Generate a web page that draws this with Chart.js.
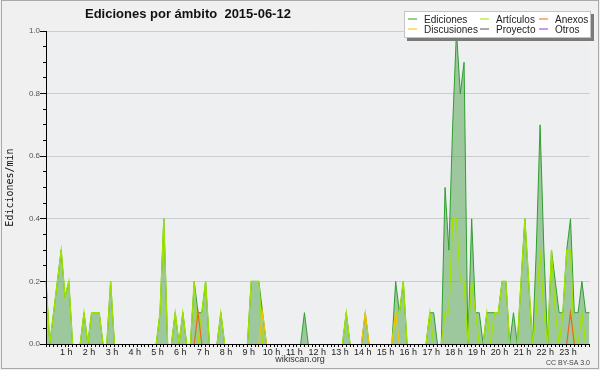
<!DOCTYPE html>
<html lang="es">
<head>
<meta charset="UTF-8">
<title>Ediciones por ámbito 2015-06-12</title>
<script src="https://cdn.jsdelivr.net/npm/chart.js@4"></script>
<style>
  body { margin: 0; background: #f0f0f0; }
  canvas { display: block; }
</style>
</head>
<body>
<canvas id="chart" width="600" height="370"></canvas>
<script>
// etiquetas de horas del eje x (una cada 6 franjas de 10 min)
var horas = ['1 h', '2 h', '3 h', '4 h', '5 h', '6 h', '7 h', '8 h', '9 h', '10 h', '11 h', '12 h',
             '13 h', '14 h', '15 h', '16 h', '17 h', '18 h', '19 h', '20 h', '21 h', '22 h', '23 h'];

// ediciones por minuto, franjas de 10 minutos (12 por fila = 2 horas)
var ediciones = [
  0.2, 0, 0.1, 0.2, 0.3, 0.15, 0.2, 0, 0, 0, 0.1, 0,
  0.1, 0.1, 0.1, 0, 0, 0.2, 0, 0, 0, 0, 0, 0,
  0, 0, 0, 0, 0, 0, 0.1, 0.4, 0, 0, 0.1, 0,
  0.1, 0, 0, 0.2, 0.1, 0.1, 0.2, 0, 0, 0, 0.1, 0,
  0, 0, 0, 0, 0, 0, 0.2, 0.2, 0.2, 0.1, 0, 0,
  0, 0, 0, 0, 0, 0, 0, 0, 0.1, 0, 0, 0,
  0, 0, 0, 0, 0, 0, 0, 0.1, 0, 0, 0, 0,
  0.1, 0, 0, 0, 0, 0, 0, 0, 0.2, 0.1, 0.2, 0,
  0, 0, 0, 0, 0, 0.1, 0.1, 0, 0, 0.5, 0.3, 0.7,
  1.0, 0.8, 0.9, 0, 0.4, 0.1, 0.1, 0, 0.1, 0.1, 0.1, 0.1,
  0.2, 0.2, 0, 0.1, 0, 0.2, 0.4, 0.2, 0, 0.3, 0.7, 0.3,
  0, 0.3, 0.2, 0.1, 0.1, 0.3, 0.4, 0.1, 0.1, 0.2, 0.1, 0.1
];
var articulos = [
  0.2, 0, 0.1, 0.2, 0.3, 0.15, 0.2, 0, 0, 0, 0.1, 0,
  0.1, 0.1, 0.1, 0, 0, 0.2, 0, 0, 0, 0, 0, 0,
  0, 0, 0, 0, 0, 0, 0.1, 0.4, 0, 0, 0.1, 0,
  0.1, 0, 0, 0.2, 0, 0.1, 0.2, 0, 0, 0, 0.1, 0,
  0, 0, 0, 0, 0, 0, 0.2, 0.2, 0.2, 0, 0, 0,
  0, 0, 0, 0, 0, 0, 0, 0, 0, 0, 0, 0,
  0, 0, 0, 0, 0, 0, 0, 0.1, 0, 0, 0, 0,
  0, 0, 0, 0, 0, 0, 0, 0, 0.1, 0.1, 0.2, 0,
  0, 0, 0, 0, 0, 0.1, 0, 0, 0, 0.1, 0.1, 0.4,
  0.4, 0.2, 0.2, 0, 0.2, 0.1, 0, 0, 0.1, 0, 0.1, 0.1,
  0.2, 0.2, 0, 0, 0, 0.2, 0.4, 0.2, 0, 0.1, 0.3, 0.1,
  0, 0.3, 0.1, 0, 0.1, 0.3, 0.3, 0, 0, 0.1, 0, 0
];
var anexos = [
  0, 0, 0, 0, 0, 0, 0, 0, 0, 0, 0, 0,
  0, 0, 0, 0, 0, 0, 0, 0, 0, 0, 0, 0,
  0, 0, 0, 0, 0, 0, 0, 0, 0, 0, 0, 0,
  0, 0, 0, 0, 0.1, 0, 0, 0, 0, 0, 0, 0,
  0, 0, 0, 0, 0, 0, 0, 0, 0, 0, 0, 0,
  0, 0, 0, 0, 0, 0, 0, 0, 0, 0, 0, 0,
  0, 0, 0, 0, 0, 0, 0, 0, 0, 0, 0, 0,
  0, 0, 0, 0, 0, 0, 0, 0, 0, 0, 0, 0,
  0, 0, 0, 0, 0, 0, 0, 0, 0, 0, 0, 0,
  0, 0, 0, 0, 0, 0, 0, 0, 0, 0, 0, 0,
  0, 0, 0, 0, 0, 0, 0, 0, 0, 0, 0, 0,
  0, 0, 0, 0, 0, 0, 0.1, 0, 0, 0, 0, 0
];
var discusiones = [
  0, 0, 0, 0, 0, 0, 0, 0, 0, 0, 0, 0,
  0, 0, 0, 0, 0, 0, 0, 0, 0, 0, 0, 0,
  0, 0, 0, 0, 0, 0, 0, 0, 0, 0, 0, 0,
  0, 0, 0, 0, 0, 0, 0, 0, 0, 0, 0, 0,
  0, 0, 0, 0, 0, 0, 0, 0, 0, 0.1, 0, 0,
  0, 0, 0, 0, 0, 0, 0, 0, 0, 0, 0, 0,
  0, 0, 0, 0, 0, 0, 0, 0, 0, 0, 0, 0,
  0.1, 0, 0, 0, 0, 0, 0, 0, 0.1, 0, 0, 0,
  0, 0, 0, 0, 0, 0, 0, 0, 0, 0, 0, 0,
  0, 0, 0, 0, 0, 0, 0, 0, 0, 0, 0, 0,
  0, 0, 0, 0, 0, 0, 0, 0, 0, 0, 0, 0,
  0, 0, 0, 0, 0, 0, 0, 0, 0, 0, 0, 0
];
var proyecto = [
  0, 0, 0, 0, 0, 0, 0, 0, 0, 0, 0, 0,
  0, 0, 0, 0, 0, 0, 0, 0, 0, 0, 0, 0,
  0, 0, 0, 0, 0, 0, 0, 0, 0, 0, 0, 0,
  0, 0, 0, 0, 0, 0, 0, 0, 0, 0, 0, 0,
  0, 0, 0, 0, 0, 0, 0, 0, 0, 0, 0, 0,
  0, 0, 0, 0, 0, 0, 0, 0, 0, 0, 0, 0,
  0, 0, 0, 0, 0, 0, 0, 0, 0, 0, 0, 0,
  0, 0, 0, 0, 0, 0, 0, 0, 0, 0, 0, 0,
  0, 0, 0, 0, 0, 0, 0, 0, 0, 0, 0, 0,
  0, 0, 0, 0, 0, 0, 0, 0, 0, 0, 0, 0,
  0, 0, 0, 0, 0, 0, 0, 0, 0, 0, 0, 0,
  0, 0, 0, 0, 0, 0, 0, 0, 0, 0, 0, 0
];
var otros = [
  0, 0, 0, 0, 0, 0, 0, 0, 0, 0, 0, 0,
  0, 0, 0, 0, 0, 0, 0, 0, 0, 0, 0, 0,
  0, 0, 0, 0, 0, 0, 0, 0, 0, 0, 0, 0,
  0, 0, 0, 0, 0, 0, 0, 0, 0, 0, 0, 0,
  0, 0, 0, 0, 0, 0, 0, 0, 0, 0, 0, 0,
  0, 0, 0, 0, 0, 0, 0, 0, 0, 0, 0, 0,
  0, 0, 0, 0, 0, 0, 0, 0, 0, 0, 0, 0,
  0, 0, 0, 0, 0, 0, 0, 0, 0, 0, 0, 0,
  0, 0, 0, 0, 0, 0, 0, 0, 0, 0, 0, 0,
  0, 0, 0, 0, 0, 0, 0, 0, 0, 0, 0, 0,
  0, 0, 0, 0, 0, 0, 0, 0, 0, 0, 0, 0,
  0, 0, 0, 0, 0, 0, 0, 0, 0, 0, 0, 0
];

// franjas de 10 minutos: 00:00 ... 23:50
var franjas = [];
for (var i = 0; i < ediciones.length; i++) {
    var h = Math.floor(i / 6), m = (i % 6) * 10;
    franjas.push((h < 10 ? '0' : '') + h + ':' + (m < 10 ? '0' : '') + m);
}

// no dibujar los tramos que van por el cero
function ocultarCeros(c) {
    if (c.p0.parsed.y === 0 && c.p1.parsed.y === 0) return 'rgba(0,0,0,0)';
    return undefined;
}

function esMayor(v) {
    return Math.abs(v * 5 - Math.round(v * 5)) < 1e-6;
}

Chart.defaults.font.family = '"Liberation Sans", Arial, sans-serif';

var extras = {
    id: 'extras',
    beforeDraw: function (chart) {
        var ctx = chart.ctx, a = chart.chartArea;
        ctx.save();
        ctx.fillStyle = '#f0f0f0';
        ctx.fillRect(0, 0, chart.width, chart.height);
        ctx.fillStyle = '#eeeff0';
        ctx.fillRect(a.left, a.top, a.right - a.left, a.bottom - a.top);
        ctx.restore();
    },
    afterDraw: function (chart) {
        var ctx = chart.ctx;
        var y = chart.scales.y;
        ctx.save();

        // marcas largas en 0.0, 0.2 ... 1.0
        ctx.strokeStyle = '#000';
        ctx.lineWidth = 1;
        y.ticks.forEach(function (t) {
            if (!esMayor(t.value)) return;
            var py = Math.round(y.getPixelForValue(t.value) - 0.5) + 0.5;
            ctx.beginPath();
            ctx.moveTo(40, py);
            ctx.lineTo(43, py);
            ctx.stroke();
        });

        // título
        ctx.fillStyle = '#111';
        ctx.font = 'bold 13px "Liberation Sans"';
        ctx.textAlign = 'left';
        ctx.textBaseline = 'alphabetic';
        ctx.fillText('Ediciones por ámbito  2015-06-12', 85, 18);

        // textos al pie
        ctx.fillStyle = '#333';
        ctx.font = '9px "Liberation Sans"';
        ctx.textAlign = 'center';
        ctx.fillText('wikiscan.org', 300, 362);
        ctx.fillStyle = '#444';
        ctx.font = '7px "Liberation Sans"';
        ctx.textAlign = 'right';
        ctx.fillText('CC BY-SA 3.0', 590, 365);

        // leyenda
        ctx.fillStyle = '#7a7a7a';
        ctx.fillRect(407, 14, 187, 27);
        ctx.fillStyle = '#fff';
        ctx.fillRect(404, 11, 187, 27);
        ctx.strokeStyle = '#c4c4c4';
        ctx.strokeRect(404.5, 11.5, 186, 26);
        var colX = [408, 480, 539], textoX = [424, 496, 555], filaY = [19, 29];
        ctx.font = '10px "Liberation Sans"';
        ctx.textAlign = 'left';
        chart.data.datasets.forEach(function (ds, k) {
            var c = k % 3, f = Math.floor(k / 3);
            ctx.strokeStyle = ds.borderColor;
            ctx.lineWidth = 1;
            ctx.beginPath();
            ctx.moveTo(colX[c], filaY[f]);
            ctx.lineTo(colX[c] + 9, filaY[f]);
            ctx.stroke();
            ctx.fillStyle = '#222';
            ctx.fillText(ds.label, textoX[c], filaY[f] + 4);
        });

        // marco
        ctx.strokeStyle = '#a9a9a9';
        ctx.strokeRect(1.5, 0.5, 597, 368);
        ctx.restore();
    }
};

function serie(label, data, color, ancho, orden, relleno) {
    return {
        label: label,
        data: data,
        borderColor: color,
        borderWidth: ancho,
        backgroundColor: relleno || color,
        fill: relleno ? 'origin' : false,
        order: orden,
        pointRadius: 0,
        tension: 0,
        segment: { borderColor: ocultarCeros }
    };
}

var ctx = document.getElementById('chart').getContext('2d');
var chart = new Chart(ctx, {
    type: 'line',
    data: {
        labels: franjas,
        datasets: [
            serie('Ediciones', ediciones, '#2f9f2f', 1, 6, 'rgba(76,161,76,0.5)'),
            serie('Artículos', articulos, 'rgb(160,226,0)', 1.3, 5),
            serie('Anexos', anexos, 'rgb(240,100,30)', 1.2, 1),
            serie('Discusiones', discusiones, 'rgb(245,195,0)', 1.2, 2),
            serie('Proyecto', proyecto, '#555555', 1, 4),
            serie('Otros', otros, 'rgb(140,60,240)', 1, 3)
        ]
    },
    options: {
        responsive: false,
        animation: false,
        devicePixelRatio: 1,
        layout: { padding: { top: 31, right: 10.5, bottom: 0, left: 0 } },
        plugins: {
            legend: { display: false },
            title: { display: false },
            tooltip: { enabled: false }
        },
        scales: {
            x: {
                offset: false,
                afterFit: function (s) { s.height = 26; },
                border: { display: true, color: '#000', width: 1, z: 1 },
                grid: { drawOnChartArea: false, drawTicks: true, tickLength: 3, tickColor: '#000' },
                ticks: {
                    autoSkip: false,
                    maxRotation: 0,
                    minRotation: 0,
                    padding: 0,
                    labelOffset: -2.5,
                    color: '#222',
                    font: { size: 9 },
                    callback: function (v, idx) {
                        if (idx > 0 && idx % 6 === 0) return horas[idx / 6 - 1];
                        return '';
                    }
                }
            },
            y: {
                min: 0,
                max: 1,
                afterFit: function (s) { s.width = 46; },
                border: { display: true, color: '#000', width: 1, z: 1 },
                grid: {
                    drawTicks: true,
                    tickLength: 3,
                    tickColor: '#000',
                    color: function (c) {
                        return (c.tick && c.tick.value > 0 && esMayor(c.tick.value)) ? '#cdcdcd' : 'rgba(0,0,0,0)';
                    }
                },
                ticks: {
                    stepSize: 0.05,
                    padding: 3,
                    color: '#555',
                    font: { size: 8 },
                    callback: function (v) { return esMayor(v) ? v.toFixed(1) : ''; }
                },
                title: {
                    display: true,
                    text: 'Ediciones/min',
                    color: '#111',
                    font: { family: '"DejaVu Sans Mono"', size: 10 },
                    padding: { top: 4, bottom: 0 }
                }
            }
        }
    },
    plugins: [extras]
});
</script>
</body>
</html>
